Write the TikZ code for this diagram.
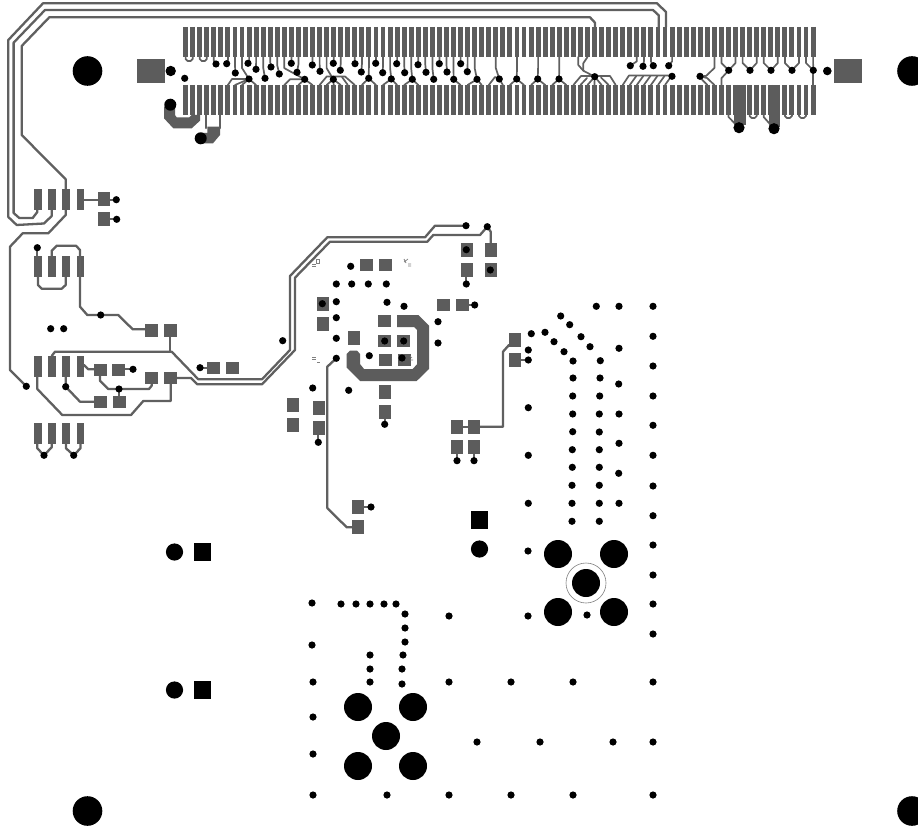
\documentclass[tikz,border=0pt]{standalone}
\definecolor{padgray}{HTML}{5C5C5C}
\definecolor{tracegray}{HTML}{606060}
\tikzset{
  padfill/.style={fill=padgray,draw=none},
  viafill/.style={fill=black,draw=none},
  trace/.style={draw=tracegray,line width=2.3pt,line join=round,line cap=round},
  thintrace/.style={draw=tracegray,line width=1.7pt,line join=round,line cap=round},
  fingerline/.style={draw=padgray,line width=4.9pt,line cap=butt},
  silk/.style={draw=gray,line width=0.7pt}
}
\begin{document}
\begin{tikzpicture}[x=1pt,y=-1pt]
\useasboundingbox (0,0) rectangle (918,829);
\clip (0,0) rectangle (918,829);
\fill[white] (0,0) rectangle (918,829);
% connector fingers
\foreach \i in {0,...,89} {
  \pgfmathsetmacro{\fx}{185.6+7.05*\i}
  \draw[fingerline] (\fx,27) -- (\fx,57);
  \draw[fingerline] (\fx,85) -- (\fx,115);
}
% long traces along the top and the left edge
\draw[trace] (666,27) -- (666,12) -- (657,3.3) -- (43,3.3) -- (8.3,40) -- (8.3,217) -- (16.7,225) -- (44,223.5) -- (51.7,216) -- (51.7,205);
\draw[trace] (658.7,27) -- (658.7,15.3) -- (653,10) -- (45,10) -- (13.6,42.7) -- (13.6,213) -- (19.3,218) -- (32.7,218) -- (37.3,212) -- (37.3,205);
\draw[trace] (595,27) -- (595,22.7) -- (590,17.3) -- (49.3,17.3) -- (21.7,46) -- (21.7,135) -- (65.7,179.3) -- (65.7,215) -- (48.3,233.3) -- (22.7,233.3) -- (10,246.7) -- (10,370) -- (26.3,386.3);
% connector top traces to vias
\foreach \v/\y/\f in {216/64/213.8,226.7/63.7/227.9,235.3/73/235,248/63.3/249.1,249/79/242,256/69.3/256.1,265/78.3/263.2,271/67/270.2,279.3/74/277.3,291.3/63.3/291.4,297/72.3/298.4,304.7/79.3/284.3,312.3/65/312.5,320/71.3/319.6,333.3/63.3/333.7,333.3/79.3/326.6,340.3/70.3/340.7,355/63.7/354.8,361.3/72/361.9,368.7/78.3/368.9,375.7/63.3/376,382.7/72.7/383,391.3/79/390.1,396.7/63.7/397.1,404.7/72.7/404.2,412.3/79.3/411.2,418/64.7/418.3,426/72.3/425.3,433.7/79.3/432.4,439.3/63.7/439.4,447/72/446.5,453.7/79.3/453.5,460.7/63.7/460.6,467.3/71.7/467.6,477/79.3/474.7,499.3/79/495.8,516.7/79/517,537.7/79/538.1,559/79/559.3,630.3/65.7/636.8,643/66.3/643.9,653.3/65.7/650.9,668.7/65.7/672.1}
  \draw[thintrace] (\f,57) -- (\f,{(\y+57)/2}) -- (\v,\y);
% connector bottom fans to vias
\foreach \v/\y/\f in {249/79/235,249/79/242,249/79/256.1,304.7/79.3/298.4,304.7/79.3/312.5,333.3/79.3/326.6,333.3/79.3/333.7,333.3/79.3/340.7,368.7/78.3/361.9,368.7/78.3/376,391.3/79/383,391.3/79/397.1,412.3/79.3/404.2,412.3/79.3/418.3,453.7/79.3/460.6,477/79.3/467.6,477/79.3/481.7,499.3/79/502.9,516.7/79/509.9,516.7/79/524,537.7/79/531.1,537.7/79/545.2,559/79/552.2,559/79/566.3,594.7/76.7/587.5,594.7/76.7/594.5,594.7/76.7/601.6}
  \draw[thintrace] (\f,85) -- (\v,\y);
\draw[thintrace] (227.9,85) -- (232,79) -- (249,79);
\draw[thintrace] (284.3,85) -- (290,79.3) -- (304.7,79.3);
\draw[thintrace] (319.6,85) -- (326.7,76.5) -- (345,76.5) -- (354.8,85);
\draw[thintrace] (347.8,85) -- (342,77);
\draw[thintrace] (488.8,85) -- (495,77) -- (499.3,79);
\draw[thintrace] (573.4,85) -- (581,76) -- (610,76) -- (615.7,85);
\draw[thintrace] (580.4,85) -- (587,78);
\draw[thintrace] (608.6,85) -- (601,77.5);
\draw[thintrace] (622.7,85) -- (629,75.5) -- (672,75.5);
\foreach \f in {629.8,636.8,643.9,650.9,658,665}
  \draw[thintrace] (\f,85) -- ({\f+6.5},76);
\draw[thintrace] (578.3,57) -- (578.3,65) -- (583.3,70.7) -- (594.7,76.7);
\draw[thintrace] (587.5,57) -- (583.3,63.3) -- (583.3,70.7);
% right end of the connector
\draw[thintrace] (700,76.3) -- (706,76) -- (714.4,68) -- (714.4,57);
\draw[thintrace] (700,76.3) -- (707,78) -- (714.4,85);
\draw[thintrace] (707.3,85) -- (700,77.5);
\draw[thintrace] (721.4,85) -- (721.4,78.3) -- (728.7,70.3);
\foreach \v/\l/\r in {728.7/721.4/735.5,750/742.6/756.7,771/763.7/777.8,792/784.9/799,813.3/806/813.1}
  \draw[thintrace] (\l,57) -- (\l,63) -- (\v,70.3) -- (\r,63) -- (\r,57);
\draw[thintrace] (813.3,70.3) -- (813.3,85);
\foreach \a/\b in {185.6/192.7,199.7/206.8,749.6/756.7,784.9/791.9,799/806} {
  \ifdim \a pt<300pt
    \draw[thintrace] (\a,57) -- (\a,59) -- ({\a+2},61) -- ({\b-2},61) -- (\b,59) -- (\b,57);
  \else
    \draw[thintrace] (\a,115) -- (\a,116) -- ({\a+2},118) -- ({\b-2},118) -- (\b,116) -- (\b,115);
  \fi
}
\draw[thintrace] (728.5,115) -- (728.5,117) -- (739,127.7);
\draw[thintrace] (763.7,115) -- (763.7,117) -- (774,128.7);
\fill[padfill] (734,85) rectangle (745.7,125);
\fill[padfill] (769.3,85) rectangle (780,127);
% thick traces at the left end of the connector
\fill[padfill] (164,106.7) -- (164,118.3) -- (173.3,128.3) -- (191.7,128.3) -- (200,120.7) -- (200,115) -- (191.7,115) -- (189.3,117.3) -- (176.7,117.3) -- (175,115) -- (175,106.7) -- cycle;
\fill[padfill] (207.3,126.7) -- (220,126.7) -- (220,135) -- (213,143.3) -- (201,143.3) -- (201,133) -- (207.3,133) -- cycle;
\draw[trace] (206,115) -- (206,128);
\draw[trace] (220,115) -- (220,128);
% left hand footprints
\foreach \y/\z in {189/210,256/277,356/376.7,422.7/444} {
  \foreach \a/\b in {34/42,48/56,62/70,77/84}
    \fill[padfill] (\a,\y) rectangle (\b,\z);
}
% left traces
\draw[trace] (84,200) -- (98,200);
\draw[trace] (104,199.7) -- (116.3,199.7);
\draw[trace] (104,219.3) -- (116.7,219.3);
\draw[trace] (37.3,247.7) -- (37.3,256);
\draw[trace] (38,277) -- (38,285) -- (41.7,288.7) -- (61.7,288.7) -- (65.7,285) -- (65.7,277);
\draw[trace] (51.7,256) -- (51.7,250.7) -- (56.7,245.7) -- (76,245.7) -- (80,250) -- (80,306.7) -- (87.3,315) -- (118.3,315) -- (132.7,329.3) -- (151,329.3);
\draw[trace] (170,337) -- (170,351.7);
\draw[trace] (51.7,356) -- (55,351.7) -- (171.7,351.7) -- (198.3,379.3) -- (262,379.3) -- (290,350) -- (290,276) -- (327.3,237.3) -- (425,237.3) -- (435,225.7) -- (466,225.7);
\draw[trace] (170,378) -- (191,378) -- (197.3,384.3) -- (262,384.3) -- (295,350) -- (295,277.7) -- (330,241.7) -- (427.3,241.7) -- (433.3,235) -- (480,235) -- (487.3,226.7) -- (490.7,231.7) -- (490.7,243);
\draw[trace] (200,367.7) -- (213,367.7);
\draw[trace] (84,365) -- (88.3,369.3) -- (100,369.3);
\draw[trace] (118,369.3) -- (133,369.3);
\draw[trace] (100,376) -- (100,380.7) -- (108.3,389) -- (149,389) -- (151.7,385.7) -- (151.7,380);
\draw[trace] (119,389) -- (119,400);
\draw[trace] (65.7,376.7) -- (65.7,386.7) -- (80,401.7) -- (100,401.7);
\draw[trace] (37.3,376.7) -- (37.3,389) -- (62.3,415) -- (131,415) -- (143.3,401) -- (170.7,401) -- (170.7,382);
\draw[trace] (37.3,444) -- (37.3,448.3) -- (44,455.3) -- (51.7,447.3) -- (51.7,444);
\draw[trace] (66,444) -- (66,448.3) -- (73.7,455.3) -- (80.5,448.3) -- (80.5,444);
% centre traces
\draw[trace] (466.3,277) -- (466.3,284);
\draw[trace] (469,305) -- (474.7,305);
\draw[trace] (336.3,358.3) -- (327.3,366.7) -- (327.3,508) -- (346.7,527.3) -- (358,527.3);
\draw[trace] (364,507) -- (371,507);
\draw[trace] (384.7,419) -- (384.7,424.3);
\draw[trace] (318.3,435) -- (318.3,442.3);
\draw[trace] (509,345) -- (503,351.7) -- (503,426.7) -- (474,426.7);
\draw[trace] (463,426.7) -- (468,426.7);
\draw[trace] (521,360) -- (528.3,360);
\draw[trace] (457,454) -- (457,460.7);
\draw[trace] (474,454) -- (474,460.7);
% thick loop in the centre
\fill[padfill] (397,315) -- (418.3,315) -- (429,325.7) -- (429,369) -- (416.7,381) -- (360,381) -- (346.7,367.7) -- (346.7,354) -- (350,350.5) -- (357,350.5) -- (360,354) -- (360,364) -- (364,369) -- (412.7,369) -- (417,364.3) -- (417,330) -- (414,327) -- (397,327) -- cycle;
% pads
\foreach \a/\b/\c/\d in {98/192/110/206,98/212/110/226,145/324/157.7/337,164/324/176.7/337,207/362/220/374,226/362/239/374,94.3/364/107/376,112/364/124.7/376,145/372/157.7/384,164/372/176.7/384,113.3/396/126/408,94.3/396/107/408,
 360/259/373/271,379/259/392/271,461/243/473/257,461/263/473/277,485/243/497/257,485/263/497/277,437/299/450/311,456/299/469/311,317/297/329/311,317/317/329/331,348/331/360/345,378/315/391/327,378/335/391/347,397/335/410/347,379/354/392/366,398/354/411/366,379/385/391/399,379/405/391/419,287/398/299/412,287/418/299/432,313/401/325/415,313/421/325/435,352/500/364/514,352/520/364/534,
 509/333/521/347,509/353/521/367,451/420/463/434,468/420/480/434,451/440/463/454,468/440/480/454,137/59/165/83,834/59/862/83}
  \fill[padfill] (\a,\b) rectangle (\c,\d);
% silk-screen scraps
\draw[silk] (312,264) -- (316,264) (312,266) -- (316,266) (316,259) -- (319,259) -- (319,263) -- (316,263) -- cycle;
\draw[silk] (404,259) -- (406,263) (404,262) -- (408,259) (408,264) -- (411,264) (408,266) -- (411,266);
\draw[silk] (312,357) -- (316,357) (312,359) -- (316,359) (317,362) -- (320,362);
\draw[silk] (410,356) -- (412,358) (410,360) -- (413,360);
% black squares
\foreach \a/\b/\c/\d in {471/511/488/529,194/543/211/561,194/681/211/699}
  \fill[viafill] (\a,\b) rectangle (\c,\d);
% small vias
\foreach \x/\y in {216/64,226.7/63.7,235.3/73,248/63.3,249/79,256/69.3,265/78.3,271/67,279.3/74,291.3/63.3,297/72.3,304.7/79.3,312.3/65,320/71.3,333.3/63.3,333.3/79.3,340.3/70.3,355/63.7,361.3/72,368.7/78.3,375.7/63.3,382.7/72.7,391.3/79,396.7/63.7,404.7/72.7,412.3/79.3,418/64.7,426/72.3,433.7/79.3,439.3/63.7,447/72,453.7/79.3,460.7/63.7,467.3/71.7,477/79.3,499.3/79,516.7/79,537.7/79,559/79,594.7/76.7,630.3/65.7,643/66.3,653.3/65.7,668.7/65.7,672/76.3,700/76.3,728.7/70.3,750/70.3,771/70.3,792/70.3,813.3/70.3,184.7/78.3,
 116.3/199.7,116.7/219.3,37.3/247.7,100.7/315,50.7/328.7,63.7/328.7,26.3/386.3,200/367.7,133/369.3,65.7/386.7,119/389,44/455.3,73.7/455.3,
 466/225.7,487.3/226.7,466.3/249.7,466.3/284,490.3/270,350.7/266.3,474.7/305,336.3/284,351.7/284,368.3/284,386.3/284,336.3/301.7,387/302.3,404/306.3,336.3/317.7,336.3/338.3,336.3/358.3,438/321.7,438/343,282.7/340.7,369.3/355.7,312.7/388,348.7/390.3,384.7/424.3,318.3/442.3,322.3/303.7,384.7/341,403.7/341,402/358,371/507,
 457/460.7,474/460.7,528.3/350,528.3/360,
 596.3/306.3,619/306.3,653/306.3,560.7/316,569.7/324.7,531.3/333.7,545/332.3,554/341.7,581/336.7,590/346.7,564/351.7,619/348.3,653/336.3,653/366,573/361,600.3/360.7,573/378,600/378,618.7/384,653/396,572.7/396,599.7/396,572.7/414,599.3/414,619/414,653/425.3,528.3/407.7,572.7/431.7,599.3/432,619/443.3,572.3/449.7,599.3/449.7,528.3/455.3,653/455.3,572.3/467.3,599.3/467.3,618.7/473.3,653/486,572/485.3,599.3/485.3,528.3/503.3,572/503.3,599.3/503.3,619/503.3,653/515.7,572/521.3,599.3/521.3,
 653/545,653/575,653/604,653/634,653/682,653/742,653/795,528/551,528/616,587/615,
 312/603,341/604,356/604,370/604,384/604,396/604,405/614,405/628,405/642,403/655,402/669,402/684,370/655,370/669,370/682,312/645,313/682,313/717,313/754,313/795,387/795,449/795,511/795,573/795,449/616,449/682,511/682,573/682,477/742,540/742,613/742}
  \fill[viafill] (\x,\y) circle[radius=3.6];
% medium vias
\foreach \x/\y/\r in {170.7/71/5.2,827.3/71/4.3,170.3/104.7/6,200.7/138.3/6,739/127.7/5.6,774/128.7/5.6,174.5/552/8.6,174.5/690/8.6,479.5/549/8.6}
  \fill[viafill] (\x,\y) circle[radius=\r];
% mounting holes and large holes
\foreach \x/\y in {87.5/71,912/71,87.5/811,912/811}
  \fill[viafill] (\x,\y) circle[radius=14.8];
\foreach \x/\y in {558/554,614/554,558/612,614/612,586/583,358/707,413/707,386/736,358/766,413/766}
  \fill[viafill] (\x,\y) circle[radius=14];
\draw[gray,line width=0.6pt] (586,583) circle[radius=20];
\end{tikzpicture}
\end{document}
